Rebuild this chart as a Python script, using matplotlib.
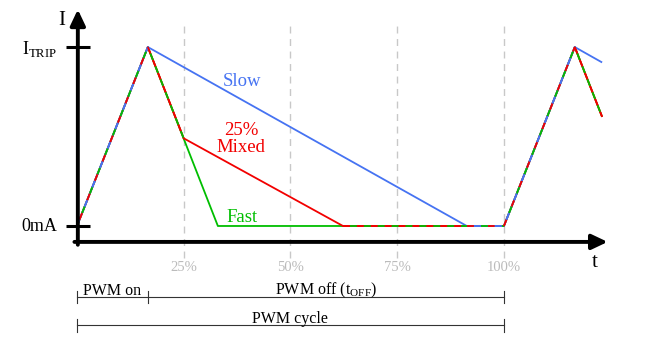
import matplotlib
matplotlib.use("Agg")
import matplotlib.pyplot as plt

plt.rcParams['font.family'] = ['Liberation Serif', 'DejaVu Serif']
plt.rcParams['mathtext.fontset'] = 'custom'
plt.rcParams['mathtext.rm'] = 'Liberation Serif'
plt.rcParams['lines.scale_dashes'] = False

# time in % of one PWM cycle, current normalised to I_TRIP
slow_t = [0, 16.6, 91.3, 100, 116.6, 123]
slow_i = [0, 1, 0, 0, 1, 0.914]
mixed_t = [0, 16.6, 25, 62.3, 100, 116.6, 123]
mixed_i = [0, 1, 0.49, 0, 0, 1, 0.61]
fast_t = [0, 16.6, 33, 100, 116.6, 123]
fast_i = [0, 1, 0, 0, 1, 0.61]

pct = [25, 50, 75, 100]
pct_labels = ['25%', '50%', '75%', '100%']

blue = '#4673F2'
red = '#F20000'
green = '#00BE00'

fig = plt.figure(figsize=(6.7, 3.38), dpi=100)
ax = fig.add_axes([0, 0, 1, 1])
ax.set_xlim(-18.03, 138.9)
ax.set_ylim(-0.626, 1.263)
ax.axis('off')

# grid lines
for p, lab in zip(pct, pct_labels):
    ax.plot([p, p], [-0.18, 1.14], color='#C8C8C8', lw=1, ls=(0, (5, 4)))
    ax.text(p, -0.25, lab, color='#BBBBBB', fontsize=10.5, ha='center', va='baseline')

lw = 1.3
ax.plot(fast_t, fast_i, color=green, lw=lw, solid_capstyle='butt')
ax.plot(mixed_t, mixed_i, color=red, lw=lw, solid_capstyle='butt')
ax.plot(slow_t, slow_i, color=blue, lw=lw, solid_capstyle='butt')


def shared(x, y, colors, d=5):
    n = len(colors)
    for k, c in enumerate(colors):
        ax.plot(x, y, color=c, lw=lw, dash_capstyle='butt',
                ls=(k * d, (d, (n - 1) * d)))


# overlapping parts drawn as alternating dashes
shared(fast_t[:2], fast_i[:2], [blue, green, red])
shared(mixed_t[1:3], mixed_i[1:3], [red, green])
shared([mixed_t[3], slow_t[2]], [0, 0], [red, green])
shared(slow_t[2:4], slow_i[2:4], [red, green, blue])
shared(slow_t[3:5], slow_i[3:5], [red, green, blue])
shared(mixed_t[5:7], mixed_i[5:7], [red, green])

# axes with arrows
arrow = dict(arrowstyle='-|>,head_length=0.95,head_width=0.45', lw=2.8,
             color='black', shrinkA=0, shrinkB=0)
ax.annotate('', xy=(0.2, 1.21), xytext=(0.2, -0.105), arrowprops=arrow)
ax.annotate('', xy=(124.3, -0.089), xytext=(-0.6, -0.089), arrowprops=arrow)
for yv in [0, 1]:
    ax.plot([-2.6, 3.0], [yv, yv], color='black', lw=2.2, solid_capstyle='butt')

ax.text(-3.5, 1.123, 'I', fontsize=15, ha='center', va='baseline')
ax.text(121.3, -0.229, 't', fontsize=15, ha='center', va='baseline')
ax.text(-4.7, 0.961, r'I$_{\mathrm{TRIP}}$', fontsize=13, ha='right', va='baseline')
ax.text(-4.7, -0.028, '0mA', fontsize=13, ha='right', va='baseline')

ax.text(38.6, 0.81, 'Slow', color=blue, fontsize=13.5, ha='center', va='center')
ax.text(38.4, 0.531, '25%', color=red, fontsize=13.5, ha='center', va='center')
ax.text(38.4, 0.441, 'Mixed', color=red, fontsize=13.5, ha='center', va='center')
ax.text(38.6, 0.05, 'Fast', color=green, fontsize=13.5, ha='center', va='center')

# bracket annotations
bc = '#333333'
ax.plot([0, 100], [-0.397, -0.397], color=bc, lw=0.8)
for xv in [0, 16.6, 100]:
    ax.plot([xv, xv], [-0.363, -0.430], color=bc, lw=0.8)
ax.plot([0, 100], [-0.553, -0.553], color=bc, lw=0.8)
for xv in [0, 100]:
    ax.plot([xv, xv], [-0.52, -0.592], color=bc, lw=0.8)
ax.text(8.2, -0.385, 'PWM on', fontsize=11.5, ha='center', va='baseline')
ax.text(58.3, -0.385, r'PWM off (t$_{\mathrm{OFF}}$)', fontsize=11.5, ha='center', va='baseline')
ax.text(49.9, -0.542, 'PWM cycle', fontsize=11.5, ha='center', va='baseline')

fig.savefig('out.png', dpi=100)
